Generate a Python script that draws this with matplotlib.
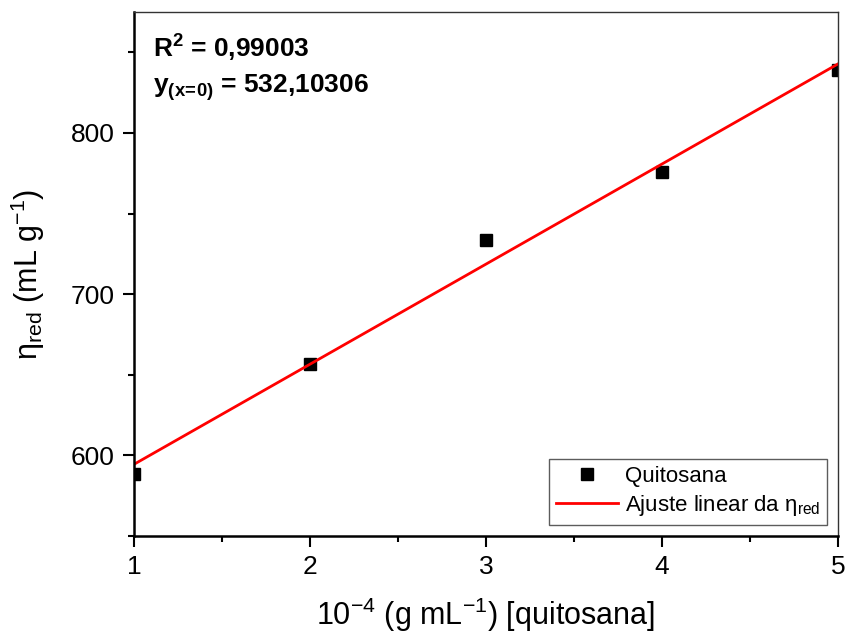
import numpy as np
import matplotlib.pyplot as plt
from matplotlib.ticker import MultipleLocator

plt.rcParams['font.family'] = ['Liberation Sans', 'DejaVu Sans']
plt.rcParams['mathtext.fontset'] = 'custom'
plt.rcParams['mathtext.rm'] = 'Liberation Sans'
plt.rcParams['mathtext.it'] = 'Liberation Sans:italic'
plt.rcParams['mathtext.bf'] = 'Liberation Sans:bold'

conc = [1, 2, 3, 4, 5]
eta_red = [588.2, 656.7, 733.4, 775.9, 839.0]
r2_text = "0,99003"
intercept_text = "532,10306"

slope, intercept = np.polyfit(conc, eta_red, 1)
xfit = np.array([1, 5])
yfit = slope * xfit + intercept

fig = plt.figure(figsize=(8.46, 6.36), dpi=100)
ax = fig.add_axes([0.1584, 0.1572, 0.8321, 0.8239])

ax.plot(conc, eta_red, 's', color='black', markersize=8, label='Quitosana')
ax.plot(xfit, yfit, '-', color='#ff0000', lw=2,
        label=r'Ajuste linear da $\mathrm{η}_{\mathrm{red}}$')

ax.set_xlim(1, 5)
ax.set_ylim(550, 875)
ax.xaxis.set_major_locator(MultipleLocator(1))
ax.xaxis.set_minor_locator(MultipleLocator(0.5))
ax.yaxis.set_major_locator(MultipleLocator(100))
ax.yaxis.set_minor_locator(MultipleLocator(50))

ax.tick_params(which='major', direction='out', length=8, width=1.5, labelsize=19,
               pad=6, top=False, right=False)
ax.tick_params(which='minor', direction='out', length=4, width=1.5,
               top=False, right=False)
for s in ['left', 'bottom']:
    ax.spines[s].set_linewidth(1.8)
for s in ['top', 'right']:
    ax.spines[s].set_linewidth(1.0)
    ax.spines[s].set_color('#333333')

ax.set_xlabel(r'10$^{-4}$ (g mL$^{-1}$) [quitosana]', fontsize=22, labelpad=12)
ax.set_ylabel(r'$\mathrm{η}_{\mathrm{red}}$ (mL g$^{-1}$)', fontsize=22, labelpad=17)

ax.text(0.027, 0.96, r'R$^{\mathbf{2}}$ = ' + r2_text, transform=ax.transAxes,
        fontsize=19, fontweight='bold', va='top', ha='left')
ax.text(0.027, 0.885, r'y$_{\mathbf{(x\!=\!0)}}$ = ' + intercept_text,
        transform=ax.transAxes, fontsize=19, fontweight='bold', va='top', ha='left')

leg = ax.legend(loc='lower right', fontsize=16, frameon=True, fancybox=False,
                edgecolor='#333333', handlelength=2.8, handletextpad=0.3,
                borderaxespad=0.5, labelspacing=0.3, borderpad=0.3)
leg.get_frame().set_linewidth(1.0)

fig.savefig('out.png', dpi=100)
